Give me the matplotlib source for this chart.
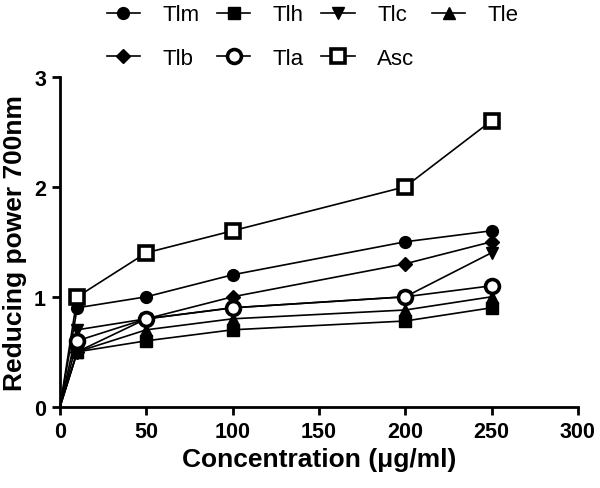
import matplotlib
matplotlib.use("Agg")
import matplotlib.pyplot as plt

plt.rcParams['font.family'] = ['Liberation Sans', 'DejaVu Sans']

# Data
conc = [0, 10, 50, 100, 200, 250]
tlm = [0, 0.9, 1.0, 1.2, 1.5, 1.6]
tlh = [0, 0.5, 0.6, 0.7, 0.78, 0.9]
tlc = [0, 0.7, 0.8, 0.9, 1.0, 1.4]
tle = [0, 0.5, 0.7, 0.8, 0.88, 1.0]
tlb = [0, 0.5, 0.8, 1.0, 1.3, 1.5]
tla = [0, 0.6, 0.8, 0.9, 1.0, 1.1]
asc = [0, 1.0, 1.4, 1.6, 2.0, 2.6]

labels = ['Tlm', 'Tlh', 'Tlc', 'Tle', 'Tlb', 'Tla', 'Asc']
series = [tlm, tlh, tlc, tle, tlb, tla, asc]
markers = ['o', 's', 'v', '^', 'D', 'o', 's']
filled = [True, True, True, True, True, False, False]
sizes = [8.5, 8, 8.5, 8.5, 7, 10, 10.5]

fig = plt.figure(figsize=(6, 4.89), dpi=100)
ax = fig.add_axes([0.1, 0.166, 0.863, 0.675])

handles = []
for y, lab, m, f, s in zip(series, labels, markers, filled, sizes):
    h, = ax.plot(conc, y, color='black', lw=1.2, marker=m, markersize=s,
                 markevery=slice(1, None),
                 markerfacecolor='black' if f else 'white',
                 markeredgecolor='black', markeredgewidth=2.6 if not f else 1,
                 label=lab, clip_on=False)
    handles.append(h)

ax.set_xlim(0, 300)
ax.set_ylim(0, 3)
ax.set_xticks([0, 50, 100, 150, 200, 250, 300])
ax.set_yticks([0, 1, 2, 3])
ax.spines['top'].set_visible(False)
ax.spines['right'].set_visible(False)
ax.spines['left'].set_linewidth(2)
ax.spines['bottom'].set_linewidth(2)
ax.tick_params(direction='out', length=6, width=2, labelsize=15.5, pad=4)
for t in ax.get_xticklabels() + ax.get_yticklabels():
    t.set_fontweight('bold')

ax.set_xlabel('Concentration (\u03bcg/ml)', fontsize=19, fontweight='bold', labelpad=4)
ax.set_ylabel('Reducing power 700nm', fontsize=19, fontweight='bold', labelpad=5)

# row-major legend order: 4 columns, 2 rows
order = [0, 4, 1, 5, 2, 6, 3]
fig.legend([handles[i] for i in order], [labels[i] for i in order],
           loc='upper center', bbox_to_anchor=(0.521, 1.03), ncol=4,
           frameon=False, fontsize=16, handlelength=1.5, labelspacing=1.0,
           columnspacing=0.8, handletextpad=1.0)

fig.savefig('out.png', dpi=100)
